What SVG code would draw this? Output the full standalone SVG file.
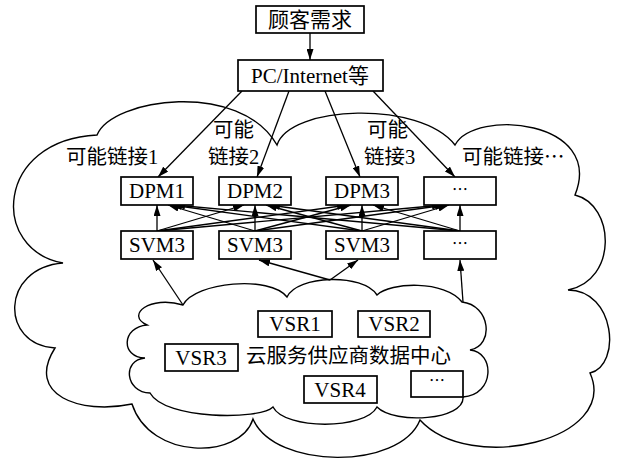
<svg xmlns="http://www.w3.org/2000/svg" width="618" height="459" viewBox="0 0 618 459">
  <style>
    .box { fill: #fff; stroke: #000; stroke-width: 1.7; }
    .cloud { fill: none; stroke: #000; stroke-width: 1.4; }
    .lbl { font-family: "Liberation Serif", "Noto Sans CJK SC", serif; font-size: 21px; fill: #000; text-anchor: middle; }
    .cap { font-family: "Liberation Serif", "Noto Sans CJK SC", serif; font-size: 20.5px; fill: #000; }
    .dots { font-family: "Noto Sans CJK SC", sans-serif; font-size: 16px; fill: #000; text-anchor: middle; }
    .conn line { stroke: #000; stroke-width: 1.3; marker-end: url(#arrow); }
  </style>
  <defs>
    <marker id="arrow" viewBox="0 0 11 7" refX="11" refY="3.5" markerWidth="11" markerHeight="7" markerUnits="userSpaceOnUse" orient="auto">
      <path d="M0,0 L11,3.5 L0,7 z" fill="#000"/>
    </marker>
  </defs>

  <!-- outer cloud -->
  <path id="outer-cloud" class="cloud" d="M97,135
    C112,98 240,80 277,145
    C290,105 420,100 455,145
    C475,108 605,120 575,195
    C615,205 618,280 568,290
    C615,290 622,365 590,373
    C620,440 470,475 420,420
    C400,470 275,470 253,419
    C240,460 150,460 132,404
    C80,415 25,395 55,348
    C0,345 0,268 63,263
    C-10,250 -5,140 97,135 Z"/>

  <!-- data centre cloud -->
  <path id="inner-cloud" class="cloud" d="M183,305
    C195,282 270,275 287,297
    C297,275 363,273 377,295
    C390,282 445,280 462,302
    C490,305 495,345 470,350
    C495,352 495,395 463,397
    C465,420 395,425 377,407
    C365,430 285,430 273,407
    C260,420 165,420 150,393
    C125,392 122,360 145,358
    C120,357 122,327 147,325
    C125,315 150,295 183,305 Z"/>

  <!-- connectors -->
  <g id="connectors" class="conn">
    <line x1="310" y1="33" x2="310" y2="60"/>
    <line x1="242" y1="91" x2="158" y2="177"/>
    <line x1="289" y1="91" x2="257" y2="177"/>
    <line x1="325" y1="91" x2="360" y2="177"/>
    <line x1="373" y1="91" x2="455" y2="177"/>

    <!-- SVM to DPM, vertical -->
    <line x1="157" y1="231" x2="157" y2="205"/>
    <line x1="255" y1="231" x2="255" y2="205"/>
    <line x1="362" y1="231" x2="362" y2="205"/>
    <line x1="460" y1="231" x2="460" y2="205"/>
    <!-- SVM to DPM, crossing -->
    <line x1="157" y1="231" x2="244" y2="205"/>
    <line x1="157" y1="231" x2="348" y2="205"/>
    <line x1="157" y1="231" x2="443" y2="205"/>
    <line x1="255" y1="231" x2="168" y2="205"/>
    <line x1="255" y1="231" x2="351" y2="205"/>
    <line x1="255" y1="231" x2="446" y2="205"/>
    <line x1="362" y1="231" x2="171" y2="205"/>
    <line x1="362" y1="231" x2="266" y2="205"/>
    <line x1="362" y1="231" x2="449" y2="205"/>
    <line x1="460" y1="231" x2="174" y2="205"/>
    <line x1="460" y1="231" x2="269" y2="205"/>
    <line x1="460" y1="231" x2="373" y2="205"/>

    <!-- data centre to SVM -->
    <line x1="183" y1="305" x2="153" y2="260"/>
    <line x1="330" y1="280" x2="259" y2="260"/>
    <line x1="330" y1="280" x2="358" y2="260"/>
    <line x1="463" y1="302" x2="460" y2="260"/>
  </g>

  <g id="customer">
    <rect class="box" x="256" y="6" width="108" height="27"/>
    <text class="lbl" x="310" y="27">顾客需求</text>
  </g>
  <g id="pc">
    <rect class="box" x="238" y="60" width="145" height="31"/>
    <text class="lbl" x="310" y="83">PC/Internet等</text>
  </g>

  <g id="dpm1"><rect class="box" x="121" y="177" width="72" height="28"/><text class="lbl" x="157" y="198">DPM1</text></g>
  <g id="dpm2"><rect class="box" x="219" y="177" width="72" height="28"/><text class="lbl" x="255" y="198">DPM2</text></g>
  <g id="dpm3"><rect class="box" x="326" y="177" width="72" height="28"/><text class="lbl" x="362" y="198">DPM3</text></g>
  <g id="dpm4"><rect class="box" x="424" y="177" width="72" height="28"/><text class="dots" x="460" y="195">…</text></g>

  <g id="svm1"><rect class="box" x="121" y="231" width="72" height="28"/><text class="lbl" x="157" y="252">SVM3</text></g>
  <g id="svm2"><rect class="box" x="219" y="231" width="72" height="28"/><text class="lbl" x="255" y="252">SVM3</text></g>
  <g id="svm3"><rect class="box" x="326" y="231" width="72" height="28"/><text class="lbl" x="362" y="252">SVM3</text></g>
  <g id="svm4"><rect class="box" x="424" y="231" width="72" height="28"/><text class="dots" x="460" y="249">…</text></g>

  <g id="vsr1"><rect class="box" x="258" y="311" width="74" height="26"/><text class="lbl" x="295" y="331">VSR1</text></g>
  <g id="vsr2"><rect class="box" x="358" y="311" width="72" height="26"/><text class="lbl" x="394" y="331">VSR2</text></g>
  <g id="vsr3"><rect class="box" x="165" y="344" width="73" height="27"/><text class="lbl" x="201" y="365">VSR3</text></g>
  <g id="vsr4"><rect class="box" x="304" y="376" width="73" height="27"/><text class="lbl" x="340" y="397">VSR4</text></g>
  <g id="vsr5"><rect class="box" x="411" y="371" width="52" height="26"/><text class="dots" x="437" y="386">…</text></g>

  <!-- captions -->
  <text class="cap" x="66" y="164">可能链接1</text>
  <text class="cap" x="213" y="137">可能</text>
  <text class="cap" x="208" y="164">链接2</text>
  <text class="cap" x="367" y="137">可能</text>
  <text class="cap" x="364" y="164">链接3</text>
  <text class="cap" x="462" y="164">可能链接<tspan font-family="Noto Sans CJK SC, sans-serif">…</tspan></text>
  <text class="cap" x="246" y="363" font-size="19.5">云服务供应商数据中心</text>
</svg>
